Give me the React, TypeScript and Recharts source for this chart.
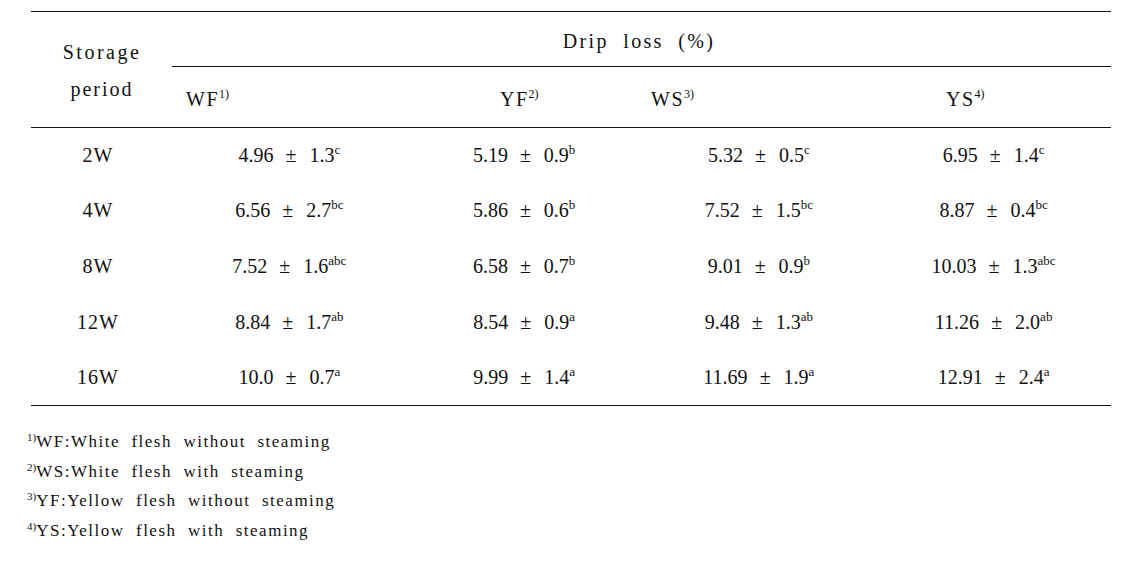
import React from 'react';
import { ScatterChart, Scatter, XAxis, YAxis, Customized } from 'recharts';

// Storage periods (rows) and sample groups (columns)
const periods = ['2W', '4W', '8W', '12W', '16W'];
const groups = ['WF', 'YF', 'WS', 'YS'];

// Drip loss (%) mean, SD and significance letters per group
const wfMean = ['4.96', '6.56', '7.52', '8.84', '10.0'];
const wfSd = ['1.3', '2.7', '1.6', '1.7', '0.7'];
const wfSig = ['c', 'bc', 'abc', 'ab', 'a'];

const yfMean = ['5.19', '5.86', '6.58', '8.54', '9.99'];
const yfSd = ['0.9', '0.6', '0.7', '0.9', '1.4'];
const yfSig = ['b', 'b', 'b', 'a', 'a'];

const wsMean = ['5.32', '7.52', '9.01', '9.48', '11.69'];
const wsSd = ['0.5', '1.5', '0.9', '1.3', '1.9'];
const wsSig = ['c', 'bc', 'b', 'ab', 'a'];

const ysMean = ['6.95', '8.87', '10.03', '11.26', '12.91'];
const ysSd = ['1.4', '0.4', '1.3', '2.0', '2.4'];
const ysSig = ['c', 'bc', 'abc', 'ab', 'a'];

const footnotes = [
  { mark: '1)', text: 'WF:White  flesh  without  steaming' },
  { mark: '2)', text: 'WS:White  flesh  with  steaming' },
  { mark: '3)', text: 'YF:Yellow  flesh  without  steaming' },
  { mark: '4)', text: 'YS:Yellow  flesh  with  steaming' }
];

const FONT = '"Liberation Serif", "Times New Roman", serif';
const INK = '#111';

const buildSeries = (group: string, mean: string[], sd: string[], sig: string[]) =>
  periods.map((period, i) => ({ group, period, mean: mean[i], sd: sd[i], sig: sig[i] }));

const series = [
  buildSeries('WF', wfMean, wfSd, wfSig),
  buildSeries('YF', yfMean, yfSd, yfSig),
  buildSeries('WS', wsMean, wsSd, wsSig),
  buildSeries('YS', ysMean, ysSd, ysSig)
];

// cell text: mean ± sd with superscript letters
const CellText = (props: any) => {
  const { cx, cy, payload } = props;
  if (cx == null || cy == null) return null;
  return (
    <text x={cx} y={cy + 7} textAnchor="middle" fontFamily={FONT} fontSize={20} fill={INK}>
      <tspan>{payload.mean}</tspan>
      <tspan dx={12}>±</tspan>
      <tspan dx={13}>{payload.sd}</tspan>
      <tspan fontSize={13} dy={-8}>{payload.sig}</tspan>
    </text>
  );
};

const PeriodTick = (props: any) => {
  const { y, payload } = props;
  return (
    <text x={98} y={y + 7} textAnchor="middle" fontFamily={FONT} fontSize={20} letterSpacing={1} fill={INK}>
      {payload.value}
    </text>
  );
};

const headerLabels = [
  { label: 'WF', mark: '1)', x: 186 },
  { label: 'YF', mark: '2)', x: 500 },
  { label: 'WS', mark: '3)', x: 651 },
  { label: 'YS', mark: '4)', x: 946 }
];

// rules, header and footnotes of the table
const TableFrame = () => (
  <g>
    <line x1={31} x2={1111} y1={11.5} y2={11.5} stroke={INK} strokeWidth={1} />
    <line x1={172} x2={1111} y1={66.5} y2={66.5} stroke={INK} strokeWidth={1} />
    <line x1={31} x2={1111} y1={127.5} y2={127.5} stroke={INK} strokeWidth={1} />
    <line x1={31} x2={1111} y1={405.5} y2={405.5} stroke={INK} strokeWidth={1} />
    <text x={102} y={59} textAnchor="middle" fontFamily={FONT} fontSize={20} letterSpacing={2.5} fill={INK}>Storage</text>
    <text x={102} y={96} textAnchor="middle" fontFamily={FONT} fontSize={20} letterSpacing={2} fill={INK}>period</text>
    <text x={639} y={48} textAnchor="middle" fontFamily={FONT} fontSize={20} letterSpacing={2.3} fill={INK} style={{ whiteSpace: 'pre' }}>
      {'Drip  loss  (%)'}
    </text>
    {headerLabels.map((h) => (
      <text key={h.label} x={h.x} y={106} fontFamily={FONT} fontSize={20} letterSpacing={1.5} fill={INK}>
        {h.label}
        <tspan fontSize={12} dy={-8} letterSpacing={0}>{h.mark}</tspan>
      </text>
    ))}
    {footnotes.map((f, i) => (
      <text key={f.mark} x={27} y={447 + i * 29.5} fontFamily={FONT} fontSize={17} fill={INK} style={{ whiteSpace: 'pre' }}>
        <tspan fontSize={11} dy={-6}>{f.mark}</tspan>
        <tspan dy={6} letterSpacing={1.5}>{f.text}</tspan>
      </text>
    ))}
  </g>
);

export default function App() {
  return (
    <div style={{ position: 'fixed', left: 0, top: 0, background: '#fff' }}>
      <ScatterChart
        width={1140}
        height={570}
        margin={{ top: 127, right: 29, bottom: 165, left: 31 }}
      >
        <XAxis type="category" dataKey="group" allowDuplicatedCategory={false} hide />
        <YAxis
          type="category"
          dataKey="period"
          allowDuplicatedCategory={false}
          width={141}
          axisLine={false}
          tickLine={false}
          tick={<PeriodTick />}
          reversed
        />
        {series.map((data, i) => (
          <Scatter key={groups[i]} data={data} shape={<CellText />} isAnimationActive={false} />
        ))}
        <Customized component={TableFrame} />
      </ScatterChart>
    </div>
  );
}
